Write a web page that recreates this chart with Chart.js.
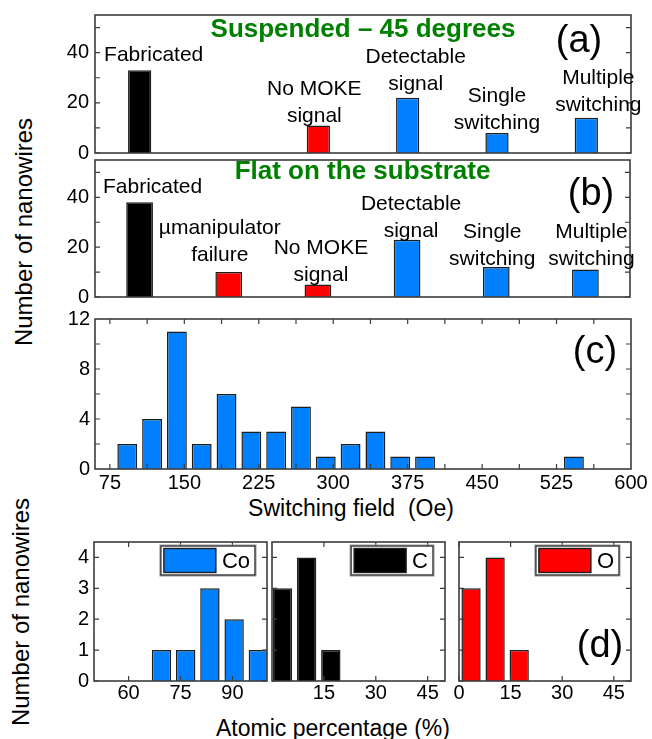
<!DOCTYPE html>
<html>
<head>
<meta charset="utf-8">
<script src="https://cdn.jsdelivr.net/npm/chart.js@4.4.0/dist/chart.umd.min.js"></script>
<style>
  body { margin: 0; background: #fff; width: 652px; height: 739px; position: relative; overflow: hidden;
         font-family: 'Liberation Sans', Arial, sans-serif; }
  canvas { position: absolute; }
  .lbl { position: absolute; white-space: nowrap; color: #000; font-size: 23px; line-height: 1;
         transform: translate(-50%, -50%); }
  .rot { font-size: 24px; transform: translate(-50%, -50%) rotate(-90deg); }
</style>
</head>
<body>
<div class="lbl rot" style="left:24px;top:232px">Number of nanowires</div>
<div class="lbl" style="left:351px;top:508px">Switching field&nbsp; (Oe)</div>
<div class="lbl rot" style="left:21px;top:612px">Number of nanowires</div>
<div class="lbl" style="left:333px;top:728px">Atomic percentage (%)</div>
<script>
// ---- data ----
const statusLabels = [['Fabricated'], ['\u00b5manipulator', 'failure'], ['No MOKE', 'signal'],
                      ['Detectable', 'signal'], ['Single', 'switching'], ['Multiple', 'switching']];
const suspendedCounts = [33, null, 11, 22, 8, 14];
const flatCounts = [38, 10, 5, 23, 12, 11];
const statusTicks = [0, 20, 40];
const statusMinor = [0, 10, 20, 30, 40, 50];

const fieldBins = [92.5, 117.5, 142.5, 167.5, 192.5, 217.5, 242.5, 267.5, 292.5, 317.5, 342.5, 367.5, 392.5, 542.5];
const fieldCounts = [2, 4, 11, 2, 6, 3, 3, 5, 1, 2, 3, 1, 1, 1];
const fieldTicks = [75, 150, 225, 300, 375, 450, 525, 600];
const fieldMinor = [75, 112.5, 150, 187.5, 225, 262.5, 300, 337.5, 375, 412.5, 450, 487.5, 525, 562.5];
const fieldCountTicks = [0, 4, 8, 12];
const fieldCountMinor = [2, 4, 6, 8, 10];

const coBins = [69.5, 76.5, 83.5, 90.5, 97.5];
const coCounts = [1, 1, 3, 2, 1];
const cBins = [3, 10, 17];
const cCounts = [3, 4, 1];
const oBins = [3.5, 10.5, 17.5];
const oCounts = [3, 4, 1];
const coTicks = [60, 75, 90];
const cTicks = [15, 30, 45];
const oTicks = [0, 15, 30, 45];
const compCountTicks = [0, 1, 2, 3, 4];

// ---- styling ----
const FONT = '"Liberation Sans", Arial, sans-serif';
const BLUE = '#0080ff', RED = '#ff0000', BLACK = '#000000';
const EDGE = '#1e1e1e', FRAME = '#3c3c3c', GREEN = '#008000';
const statusColors = [BLACK, RED, RED, BLUE, BLUE, BLUE];
const PAD = 26;

// frame with inward ticks on every side
function frame(cfg) {
    return {
        id: 'frame',
        afterDatasetsDraw(chart) {
            const {ctx, chartArea: a, scales} = chart;
            ctx.save();
            ctx.strokeStyle = FRAME;
            ctx.lineWidth = 1.6;
            ctx.strokeRect(a.left, a.top, a.right - a.left, a.bottom - a.top);
            ctx.lineWidth = 1.2;
            ctx.beginPath();
            (cfg.y || []).forEach(v => {
                const y = scales.y.getPixelForValue(v);
                ctx.moveTo(a.left, y); ctx.lineTo(a.left + 5, y);
                ctx.moveTo(a.right, y); ctx.lineTo(a.right - 5, y);
            });
            (cfg.x || []).forEach(v => {
                const x = scales.x.getPixelForValue(v);
                ctx.moveTo(x, a.top); ctx.lineTo(x, a.top + 5);
                ctx.moveTo(x, a.bottom); ctx.lineTo(x, a.bottom - 5);
            });
            ctx.stroke();
            ctx.restore();
        }
    };
}

// bar captions, panel titles, panel tags and the small legends
function notes(cfg) {
    return {
        id: 'notes',
        afterDatasetsDraw(chart) {
            const {ctx, chartArea: a} = chart;
            ctx.save();
            ctx.textAlign = 'center';
            ctx.textBaseline = 'middle';
            ctx.fillStyle = '#000';
            if (cfg.lines) {
                const meta = chart.getDatasetMeta(0);
                const vals = chart.data.datasets[0].data;
                ctx.font = '21px ' + FONT;
                meta.data.forEach((bar, i) => {
                    if (vals[i] == null) return;
                    const ls = cfg.lines[i];
                    ls.forEach((s, k) => {
                        const y = bar.y - cfg.gap[i] - (ls.length - 1 - k) * cfg.step;
                        ctx.fillText(s, bar.x + cfg.dx[i], y);
                    });
                });
            }
            if (cfg.title) {
                ctx.font = 'bold 26px ' + FONT;
                ctx.fillStyle = GREEN;
                ctx.fillText(cfg.title, (a.left + a.right) / 2, a.top + cfg.titleDy);
                ctx.fillStyle = '#000';
            }
            if (cfg.tag) {
                ctx.font = '38px ' + FONT;
                const y = cfg.tagBottom ? a.bottom - cfg.tagDy : a.top + cfg.tagDy;
                ctx.fillText(cfg.tag, a.right - cfg.tagDx, y);
            }
            if (cfg.legend) {
                ctx.font = '22px ' + FONT;
                const tw = ctx.measureText(cfg.legend).width;
                const w = 3 + 52 + 6 + tw + 5, h = 29;
                const x0 = a.right - 12 - w, y0 = a.top + 4;
                ctx.fillStyle = '#fff';
                ctx.fillRect(x0, y0, w, h);
                ctx.strokeStyle = '#9a9a9a';
                ctx.lineWidth = 1;
                ctx.strokeRect(x0 - 1, y0 - 1, w + 2, h + 2);
                ctx.strokeStyle = '#333';
                ctx.lineWidth = 1.4;
                ctx.strokeRect(x0, y0, w, h);
                ctx.fillStyle = cfg.legendColor;
                ctx.fillRect(x0 + 3, y0 + 2.5, 52, h - 5);
                ctx.strokeStyle = EDGE;
                ctx.strokeRect(x0 + 3, y0 + 2.5, 52, h - 5);
                ctx.fillStyle = '#000';
                ctx.textAlign = 'left';
                ctx.fillText(cfg.legend, x0 + 61, y0 + h / 2 + 1);
            }
            ctx.restore();
        }
    };
}

function fixedTicks(arr) {
    return s => { s.ticks = arr.map(v => ({value: v})); };
}

function panel(box, yW, xH, config) {
    const cv = document.createElement('canvas');
    cv.width = box.r - box.l + yW + 2 * PAD;
    cv.height = box.b - box.t + xH + 2 * PAD;
    cv.style.left = (box.l - yW - PAD) + 'px';
    cv.style.top = (box.t - PAD) + 'px';
    document.body.appendChild(cv);
    const o = config.options;
    o.responsive = false;
    o.animation = false;
    o.events = [];
    o.layout = {padding: PAD};
    o.plugins = {legend: {display: false}, tooltip: {enabled: false}};
    o.scales.x.afterFit = s => { s.height = xH; };
    o.scales.y.afterFit = s => { s.width = yW; };
    return new Chart(cv, config);
}

const tickFont = {family: FONT, size: 20};

function statusChart(box, counts, barPct, title, tag, lay) {
    return panel(box, 56, 0, {
        type: 'bar',
        data: {
            labels: statusLabels.map(l => l.join(' ')),
            datasets: [{
                data: counts,
                backgroundColor: statusColors,
                borderColor: EDGE,
                borderWidth: 1.5,
                categoryPercentage: 1,
                barPercentage: barPct
            }]
        },
        options: {
            scales: {
                x: {display: false},
                y: {
                    min: 0, max: 55,
                    afterBuildTicks: fixedTicks(statusTicks),
                    grid: {display: false, drawTicks: false},
                    border: {display: false},
                    ticks: {font: tickFont, color: '#000', padding: 6, autoSkip: false}
                }
            }
        },
        plugins: [frame({y: statusMinor}), notes(Object.assign({lines: statusLabels, title, tag}, lay))]
    });
}

statusChart({l: 95, t: 15, r: 631, b: 153}, suspendedCounts, 0.26, 'Suspended \u2013 45 degrees', '(a)',
    {dx: [14, 0, -4, 8, 0, 12], gap: [15, 0, 9, 14, 10, 13], step: 27, titleDy: 15, tagDx: 52, tagDy: 27});
statusChart({l: 95, t: 160, r: 630, b: 297}, flatCounts, 0.3, 'Flat on the substrate', '(b)',
    {dx: [13, -9, 3, 4, -4, 6], gap: [15, 17, 9, 9, 8, 10], step: 27, titleDy: 12, tagDx: 39, tagDy: 35});

function histChart(box, yW, bins, counts, color, xr, xTicks, xMinor, yr, yTicks, yMinor, yLabels, xPad, extra) {
    return panel(box, yW, 30, {
        type: 'bar',
        data: {
            datasets: [{
                data: bins.map((x, i) => ({x: x, y: counts[i]})),
                backgroundColor: color,
                borderColor: EDGE,
                borderWidth: 1.5,
                categoryPercentage: 1,
                barPercentage: 0.8
            }]
        },
        options: {
            scales: {
                x: {
                    type: 'linear', offset: false, min: xr[0], max: xr[1],
                    afterBuildTicks: fixedTicks(xTicks),
                    grid: {display: false, drawTicks: false},
                    border: {display: false},
                    ticks: {font: tickFont, color: '#000', padding: xPad, autoSkip: false, maxRotation: 0}
                },
                y: {
                    display: yLabels, min: yr[0], max: yr[1],
                    afterBuildTicks: fixedTicks(yTicks),
                    grid: {display: false, drawTicks: false},
                    border: {display: false},
                    ticks: {font: tickFont, color: '#000', padding: 5, autoSkip: false}
                }
            }
        },
        plugins: [frame({x: xMinor, y: yMinor}), notes(extra)]
    });
}

histChart({l: 95, t: 319, r: 631, b: 469}, 56, fieldBins, fieldCounts, BLUE, [60, 600], fieldTicks, fieldMinor,
    [0, 12], fieldCountTicks, fieldCountMinor, true, 2, {tag: '(c)', tagDx: 36, tagDy: 34});
histChart({l: 94, t: 542, r: 267, b: 681}, 56, coBins, coCounts, BLUE, [50, 100], coTicks, coTicks,
    [0, 4.5], compCountTicks, compCountTicks, true, 0, {legend: 'Co', legendColor: BLUE});
histChart({l: 272, t: 542, r: 445, b: 681}, 0, cBins, cCounts, BLACK, [0, 50], cTicks, cTicks,
    [0, 4.5], compCountTicks, compCountTicks, false, 0, {legend: 'C', legendColor: BLACK});
histChart({l: 459, t: 542, r: 631, b: 681}, 0, oBins, oCounts, RED, [0, 50], oTicks, oTicks,
    [0, 4.5], compCountTicks, compCountTicks, false, 0,
    {legend: 'O', legendColor: RED, tag: '(d)', tagDx: 31, tagDy: 34, tagBottom: true});
</script>
</body>
</html>
